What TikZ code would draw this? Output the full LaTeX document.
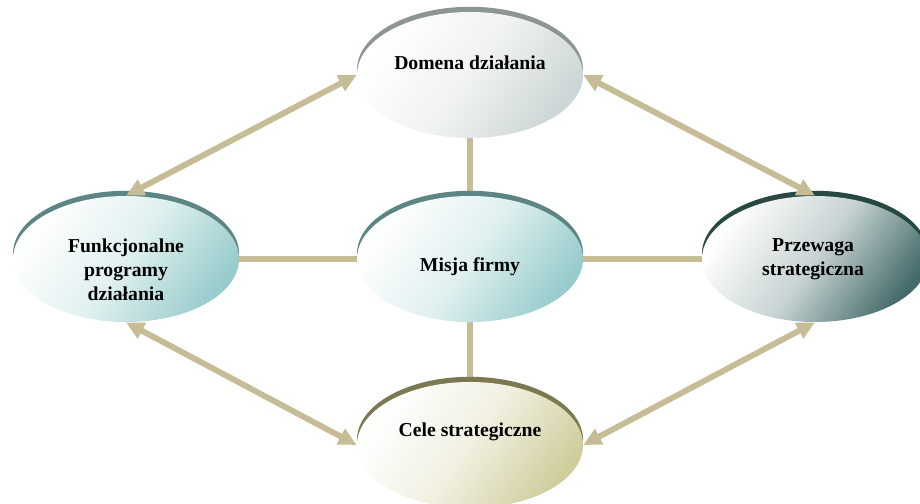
\documentclass[tikz,border=0pt]{standalone}
\usepackage{fontspec}
\setmainfont{Liberation Serif}
\usetikzlibrary{shapes.geometric,arrows.meta,backgrounds}

\definecolor{linkc}{HTML}{C6BD96}
\definecolor{grayrim}{HTML}{8C9494}
\definecolor{grayend}{HTML}{CDD6D6}
\definecolor{tealrim}{HTML}{5C8584}
\definecolor{tealend}{HTML}{98CCCC}
\definecolor{darkrim}{HTML}{284842}
\definecolor{darkend}{HTML}{446A6A}
\definecolor{olivrim}{HTML}{7B7852}
\definecolor{olivend}{HTML}{D0CD9C}

\tikzset{
  oval/.style 2 args={ellipse, minimum width=5.65cm, minimum height=3.15cm, inner sep=0pt,
    preaction={fill=#1, transform canvas={yshift=0.13cm}},
    top color=white, bottom color=#2, middle color=#2!30!white, shading angle=55},
  lbl/.style={font=\bfseries\fontsize{14}{17}\selectfont, align=center},
  link/.style={linkc, line width=4.2pt},
  twoway/.style={linkc, line width=4.2pt, {Triangle[length=0.45cm,width=0.42cm]}-{Triangle[length=0.45cm,width=0.42cm]}}
}

\begin{document}
\begin{tikzpicture}[x=0.025cm, y=-0.025cm]
\useasboundingbox (0, 0) rectangle (920, 504);
% ellipses
\node[oval={grayrim}{grayend}] (dom) at (470, 75) {};
\node[oval={tealrim}{tealend}] (mis) at (470, 259) {};
\node[oval={tealrim}{tealend}] (fun) at (126, 259) {};
\node[oval={darkrim}{darkend}] (prz) at (815, 259) {};
\node[oval={olivrim}{olivend}] (cel) at (470, 445) {};
% labels
\node[lbl] (domt) at ([yshift=0.3cm]dom.center) {Domena działania};
\node[lbl] (mist) at ([yshift=-0.2cm]mis.center) {Misja firmy};
\node[lbl] (funt) at ([yshift=-0.27cm]fun.center) {Funkcjonalne\\programy\\działania};
\node[lbl] (przt) at ([xshift=-0.05cm]prz.center) {Przewaga\\strategiczna};
\node[lbl] (celt) at ([yshift=0.32cm]cel.center) {Cele strategiczne};
% links to the mission
\begin{scope}[on background layer]
\draw[link] (dom.south) -- (mis.north);
\draw[link] (mis.south) -- (cel.north);
\draw[link] (fun.east) -- (mis.west);
\draw[link] (mis.east) -- (prz.west);
\end{scope}
% outer arrows
\draw[twoway] (dom.west) -- (fun.north);
\draw[twoway] (dom.east) -- (prz.north);
\draw[twoway] (fun.south) -- (cel.west);
\draw[twoway] (prz.south) -- (cel.east);
\end{tikzpicture}
\end{document}
